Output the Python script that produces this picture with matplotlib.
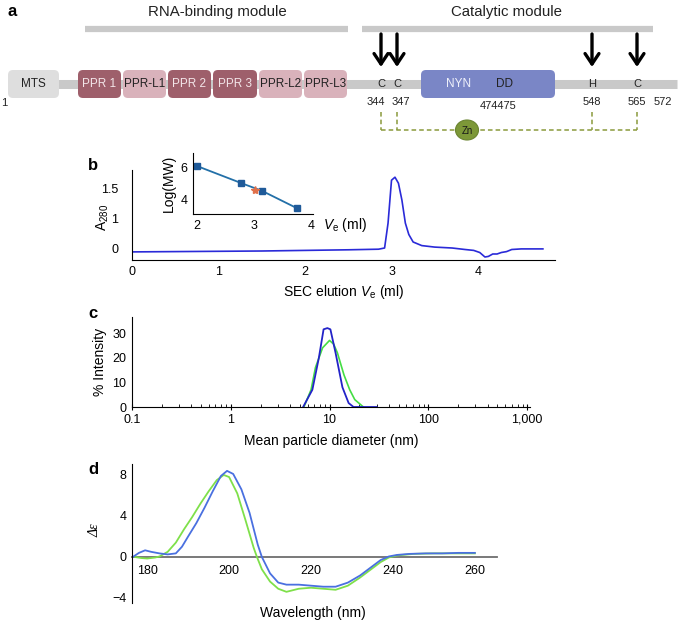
import numpy as np
import matplotlib
matplotlib.use("Agg")
import matplotlib.pyplot as plt
from matplotlib.patches import FancyBboxPatch, Ellipse

plt.rcParams['font.family'] = ['Liberation Sans', 'DejaVu Sans']
plt.rcParams['mathtext.fontset'] = 'custom'
plt.rcParams['mathtext.rm'] = 'Liberation Sans'
plt.rcParams['mathtext.it'] = 'Liberation Sans:italic'
plt.rcParams['mathtext.bf'] = 'Liberation Sans:bold'

# ---------------- data ----------------
# panel a: domain architecture
domain_names = ['MTS', 'PPR 1', 'PPR-L1', 'PPR 2', 'PPR 3', 'PPR-L2', 'PPR-L3', 'NYN']
domain_kind = ['mts', 'ppr', 'pprl', 'ppr', 'ppr', 'pprl', 'pprl', 'nyn']
residue_letters = ['C', 'C', 'H', 'C']
residue_numbers = ['344', '347', '548', '565']
end_labels = ['1', '572']
nyn_numbers = '474475'

# panel b: SEC chromatogram
sec_ve = [0, 0.5, 1, 1.5, 2, 2.5, 2.85, 2.92, 2.96, 3.0, 3.04, 3.08, 3.12, 3.16, 3.2,
          3.25, 3.35, 3.5, 3.7, 3.85, 3.95, 4.02, 4.08, 4.12, 4.17, 4.22, 4.27, 4.33,
          4.39, 4.5, 4.75]
sec_a280 = [-0.13, -0.12, -0.11, -0.1, -0.08, -0.06, -0.04, 0.0, 0.83, 1.63, 1.68, 1.58,
            1.30, 0.83, 0.45, 0.2, 0.08, 0.03, 0.0, -0.05, -0.08, -0.15, -0.3, -0.28,
            -0.2, -0.2, -0.15, -0.12, -0.05, -0.03, -0.03]
# inset calibration
cal_ve = [2.0, 2.77, 3.14, 3.75]
cal_logmw = [6.06, 5.03, 4.55, 3.5]
sample_ve = [3.02]
sample_logmw = [4.6]

# panel c: DLS
dls_size_blue = [5.4, 6.7, 7.8, 8.7, 9.5, 10.2, 11.5, 13.5, 15.6, 17.5, 30]
dls_int_blue = [0, 7, 20, 31.5, 32, 31.5, 22, 8, 1.6, 0, 0]
dls_size_green = [5.5, 6.5, 7.2, 8.5, 10, 11, 12, 14, 16, 18, 22]
dls_int_green = [0, 7, 16, 24, 27, 25.5, 22, 13, 7, 3, 0]

# panel d: CD spectra
cd_wl_blue = [176.5, 178, 179.5, 181, 183, 185, 187, 188.5, 190, 192, 194, 196, 198, 199.5,
              201, 203, 205, 207, 208, 210, 212, 214, 217, 220, 223, 226, 229, 232, 235,
              237, 239, 241, 244, 248, 252, 256, 260]
cd_de_blue = [0.0, 0.4, 0.65, 0.5, 0.35, 0.25, 0.35, 1.0, 2.0, 3.3, 4.8, 6.4, 7.9, 8.4,
              8.1, 6.6, 4.3, 1.2, 0.0, -1.6, -2.5, -2.7, -2.7, -2.8, -2.9, -2.9, -2.5, -1.8,
              -0.9, -0.3, 0.05, 0.2, 0.3, 0.35, 0.35, 0.4, 0.4]
cd_wl_green = [177, 178.5, 180, 182, 183, 185, 187, 189, 191, 193, 195, 197, 198.7, 200,
               202, 204, 206, 206.8, 208, 210, 212, 214, 217, 220, 223, 226, 229, 232, 235,
               237, 239, 241, 245, 250, 255, 260]
cd_de_green = [0.0, -0.1, -0.15, -0.05, 0.05, 0.5, 1.4, 2.7, 3.9, 5.2, 6.4, 7.5, 8.0, 7.8,
               6.2, 3.6, 0.9, 0.0, -1.2, -2.4, -3.1, -3.4, -3.1, -3.0, -3.1, -3.2, -2.8,
               -2.0, -1.1, -0.5, -0.05, 0.15, 0.3, 0.35, 0.35, 0.35]

# ---------------- figure ----------------
W, H = 685, 621
fig = plt.figure(figsize=(W / 100, H / 100), dpi=100)


def px_axes(left, top, right, bottom, **kw):
    return fig.add_axes([left / W, 1 - bottom / H, (right - left) / W, (bottom - top) / H], **kw)


# ---------- panel a (diagram in pixel coordinates) ----------
ax0 = fig.add_axes([0, 0, 1, 1])
ax0.set_xlim(0, W)
ax0.set_ylim(H, 0)
ax0.axis('off')

gray = '#c9c9c9'
ax0.text(8, 12, 'a', fontsize=12, fontweight='bold', va='center', ha='left')
ax0.plot([85, 348], [29, 29], color=gray, lw=4.5, solid_capstyle='butt')
ax0.plot([362, 653], [29, 29], color=gray, lw=4.5, solid_capstyle='butt')
ax0.text(217, 12, 'RNA-binding module', fontsize=10.8, ha='center', va='center', color='#222222')
ax0.text(507, 12, 'Catalytic module', fontsize=10.8, ha='center', va='center', color='#222222')

# backbone
ax0.plot([40, 677], [83.5, 83.5], color=gray, lw=6.5, solid_capstyle='butt', zorder=1)

dom_x = [(7, 60), (77, 122), (122, 167), (167, 212), (212, 258), (258, 303), (303, 348), (420, 556)]
styles = {'mts': ('#dedede', '#222222'), 'ppr': ('#9e5f6b', '#f3e6e9'),
          'pprl': ('#d9b2bb', '#222222'), 'nyn': ('#7a86c6', '#eef0fa')}
for name, kind, (x0, x1) in zip(domain_names, domain_kind, dom_x):
    fc, tc = styles[kind]
    p = FancyBboxPatch((x0 + 1, 70), x1 - x0 - 2, 28, boxstyle='round,pad=0,rounding_size=5',
                       fc=fc, ec='none', zorder=2)
    ax0.add_patch(p)
    if kind == 'nyn':
        ax0.text(459, 84, 'NYN', fontsize=8.5, color=tc, ha='center', va='center', zorder=3)
        ax0.text(505, 84, 'DD', fontsize=8.5, color='#222222', ha='center', va='center', zorder=3)
    else:
        ax0.text((x0 + x1) / 2, 84, name, fontsize=8.5, color=tc, ha='center', va='center', zorder=3)

res_x = [381, 397, 592, 637]
num_x = [376, 401, 592, 637]
for x, nx, let, num in zip(res_x, num_x, residue_letters, residue_numbers):
    ax0.text(x, 84, let, fontsize=8, ha='center', va='center', color='#222222', zorder=3)
    ax0.text(nx, 102, num, fontsize=8, ha='center', va='center', color='#222222')
    ax0.annotate('', xy=(x, 67), xytext=(x, 34),
                 arrowprops=dict(arrowstyle='->,head_length=0.75,head_width=0.5', lw=2.4,
                                 color='black', shrinkA=0, shrinkB=0))
ax0.text(498, 106, nyn_numbers, fontsize=8, ha='center', va='center', color='#222222')
ax0.text(4, 103, end_labels[0], fontsize=8, ha='center', va='center', color='#222222')
ax0.text(663, 102, end_labels[1], fontsize=8, ha='center', va='center', color='#222222')

zn_col = '#8a9a3c'
for x in res_x:
    ax0.plot([x, x], [112, 129.5], color=zn_col, lw=1.1, ls=(0, (3, 2)))
ax0.plot([381, 637], [129.5, 129.5], color=zn_col, lw=1.1, ls=(0, (3, 2)))
ax0.add_patch(Ellipse((467, 130), 23, 20, fc='#7d9838', ec='#6a8430', lw=0.8, zorder=3))
ax0.text(467, 130.5, 'Zn', fontsize=7, ha='center', va='center', color='#1a1a1a', zorder=4)

# ---------- panel b ----------
axb = px_axes(132, 170, 555, 260)


def fwd(y):
    y = np.asarray(y, dtype=float)
    return np.where(y <= 1, y, 1 + 2 * (y - 1))


def inv(f):
    f = np.asarray(f, dtype=float)
    return np.where(f <= 1, f, 1 + (f - 1) / 2)


axb.set_yscale('function', functions=(fwd, inv))
axb.plot(sec_ve, sec_a280, color='#2a2ad8', lw=1.2)
axb.set_xlim(0, 4.89)
axb.set_ylim(-0.4, 1.8)
axb.set_xticks([0, 1, 2, 3, 4])
axb.set_xticklabels(['0', '1', '2', '3', '4'])
axb.set_yticks([0, 1, 1.5])
axb.set_yticklabels(['0', '1', '1.5'])
axb.minorticks_off()
axb.tick_params(length=0, labelsize=9, pad=4)
axb.tick_params(axis='y', pad=10)
for s in ['top', 'right']:
    axb.spines[s].set_visible(False)
axb.patch.set_alpha(0)
axb.set_xlabel(r'SEC elution $V_\mathrm{e}$ (ml)', fontsize=10, labelpad=4)
fig.text(103 / W, 1 - 217 / H, r'A$_{280}$', rotation=90, fontsize=10, ha='center', va='center')
fig.text(93 / W, 1 - 165 / H, 'b', fontsize=12, fontweight='bold', ha='center', va='center')

# inset
axi = px_axes(193, 153, 313, 214)
axi.plot(cal_ve, cal_logmw, color='#2370a8', lw=1.3, marker='s', ms=5,
         mfc='#1f5a99', mec='#1f5a99')
axi.plot(sample_ve, sample_logmw, marker='*', ms=6, color='#e0704a', ls='none')
axi.set_xlim(1.93, 4.03)
axi.set_ylim(3.15, 6.85)
axi.set_xticks([2, 3, 4])
axi.set_yticks([4, 6])
axi.tick_params(length=0, labelsize=9, pad=4)
for s in ['top', 'right']:
    axi.spines[s].set_visible(False)
axi.patch.set_alpha(0)
axi.set_ylabel('Log(MW)', fontsize=10, labelpad=3)
fig.text(345 / W, 1 - 225 / H, r'$V_\mathrm{e}$ (ml)', fontsize=10, ha='center', va='center')

# ---------- panel c ----------
axc = px_axes(132, 317, 530, 407)
axc.plot(dls_size_green, dls_int_green, color='#44dd44', lw=1.2)
axc.plot(dls_size_blue, dls_int_blue, color='#2323c8', lw=1.3)
axc.set_xscale('log')
axc.set_xlim(0.1, 1070)
axc.set_ylim(0, 36.5)
axc.set_xticks([0.1, 1, 10, 100, 1000])
axc.set_xticklabels(['0.1', '1', '10', '100', '1,000'])
axc.set_yticks([0, 10, 20, 30])
axc.tick_params(axis='x', which='major', direction='inout', length=4, labelsize=9, pad=3)
axc.tick_params(axis='x', which='minor', direction='in', length=2)
axc.tick_params(axis='y', length=0, labelsize=9, pad=4)
for s in ['top', 'right']:
    axc.spines[s].set_visible(False)
axc.patch.set_alpha(0)
axc.set_xlabel('Mean particle diameter (nm)', fontsize=10, labelpad=6)
axc.set_ylabel('% Intensity', fontsize=10, labelpad=4)
fig.text(93 / W, 1 - 314 / H, 'c', fontsize=12, fontweight='bold', ha='center', va='center')

# ---------- panel d ----------
axd = px_axes(132, 464, 497, 603)
axd.plot(cd_wl_green, cd_de_green, color='#7fe04a', lw=1.3)
axd.plot(cd_wl_blue, cd_de_blue, color='#4a70e0', lw=1.3)
axd.set_xlim(176.3, 265.4)
axd.set_ylim(-4.49, 9.07)
axd.set_xticks([180, 200, 220, 240, 260])
axd.set_yticks([-4, 0, 4, 8])
axd.set_yticklabels(['\u22124', '0', '4', '8'])
axd.spines['bottom'].set_position(('data', 0))
axd.spines['bottom'].set_color('#6e6e6e')
axd.spines['bottom'].set_linewidth(1.3)
axd.spines['bottom'].set_zorder(0)
for s in ['top', 'right']:
    axd.spines[s].set_visible(False)
axd.tick_params(length=0, labelsize=9)
axd.tick_params(axis='x', pad=6)
axd.tick_params(axis='y', pad=4)
axd.patch.set_alpha(0)
fig.text(313 / W, 1 - 613 / H, 'Wavelength (nm)', fontsize=10, ha='center', va='center')
fig.text(95 / W, 1 - 530 / H, '\u0394\u03b5', rotation=90, fontsize=10,
         family=['Liberation Serif', 'DejaVu Serif'], style='italic', ha='center', va='center')
fig.text(93 / W, 1 - 470 / H, 'd', fontsize=12, fontweight='bold', ha='center', va='center')

fig.savefig('out.png', dpi=100)
